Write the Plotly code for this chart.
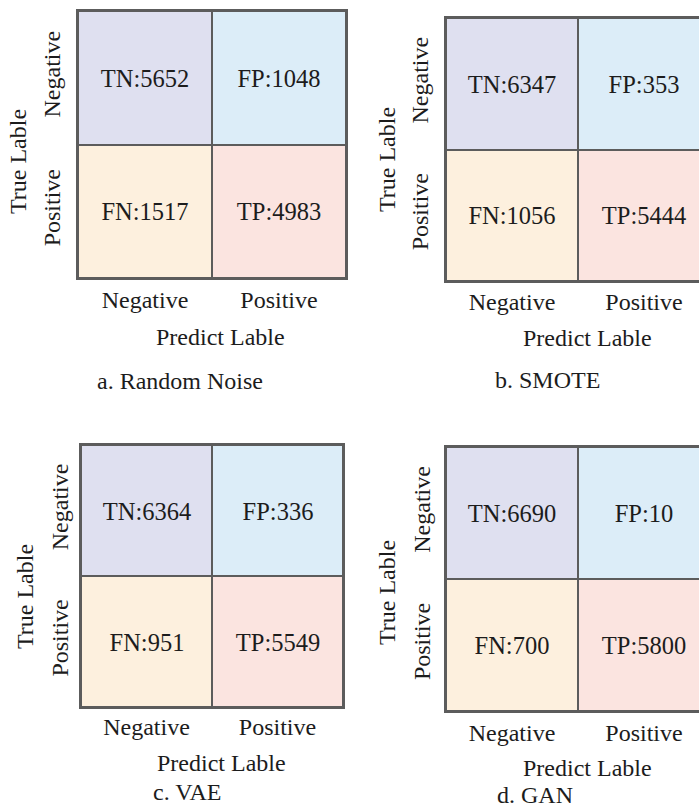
import plotly.graph_objects as go

# ---------------- data ----------------
methods = ["a. Random Noise", "b. SMOTE", "c. VAE", "d. GAN"]
tn_vals = [5652, 6347, 6364, 6690]
fp_vals = [1048, 353, 336, 10]
fn_vals = [1517, 1056, 951, 700]
tp_vals = [4983, 5444, 5549, 5800]
class_labels = ["Negative", "Positive"]
x_title = "Predict Lable"
y_title = "True Lable"

# ---------------- layout helpers ----------------
W, H = 699, 812
FONT = "Liberation Serif"
TXT = "#1c1c1c"
LINE = "#5c5c5c"
cell_colors = ["#dfe0f0", "#dcedf8", "#fdf0de", "#fbe4e0"]
colorscale = [[0, cell_colors[0]], [1 / 3, cell_colors[1]], [2 / 3, cell_colors[2]], [1, cell_colors[3]]]

def fx(px):
    return px / W

def fy(py):
    return 1 - py / H

panels = [
    dict(x0=78, x1=346, y0=11, y1=278, xt=(220, 337), cap=(180, 381), yt=(18, 162), mirror=True, xs=-1, yl=6),
    dict(x0=446, x1=710, y0=18, y1=281, xt=(587, 338), cap=(547, 380), yt=(387, 160), mirror=False, xs=-2, yl=6),
    dict(x0=81, x1=343, y0=445, y1=707, xt=(222, 763), cap=(187, 792), yt=(25, 597), mirror=True, xs=-3, yl=1),
    dict(x0=446, x1=710, y0=447, y1=711, xt=(587, 768), cap=(535, 795), yt=(387, 593), mirror=False, xs=-1, yl=4),
]

fig = go.Figure()
annotations = []

for i, p in enumerate(panels):
    n = "" if i == 0 else str(i + 1)
    text = [[f"TN:{tn_vals[i]}", f"FP:{fp_vals[i]}"],
            [f"FN:{fn_vals[i]}", f"TP:{tp_vals[i]}"]]
    fig.add_trace(go.Heatmap(
        z=[[0, 1], [2, 3]], x=[0, 1], y=[0, 1],
        text=text, texttemplate="%{text}",
        textfont=dict(family=FONT, size=24.5, color=TXT),
        colorscale=colorscale, zmin=0, zmax=3, showscale=False,
        xgap=2, ygap=2, hoverinfo="skip",
        xaxis="x" + n, yaxis="y" + n,
    ))
    vis_x1 = min(p["x1"], W)
    cellw = (p["x1"] - p["x0"]) / 2
    xr_end = -0.5 + (vis_x1 - p["x0"]) / cellw
    fig.layout["xaxis" + n] = dict(
        domain=[fx(p["x0"]), fx(vis_x1)], range=[-0.5, xr_end],
        anchor="y" + n, tickvals=[0, 1], ticktext=class_labels,
        ticks="", ticklen=0, ticklabelstandoff=p["xs"],
        tickfont=dict(family=FONT, size=24, color=TXT),
        showgrid=False, zeroline=False, showline=True, mirror=True,
        linecolor=LINE, linewidth=2, fixedrange=True,
    )
    fig.layout["yaxis" + n] = dict(
        domain=[fy(p["y1"]), fy(p["y0"])], range=[1.5, -0.5],
        anchor="x" + n, tickvals=[0, 1], ticktext=class_labels,
        tickangle=-90, ticks="outside", ticklen=p["yl"], tickcolor="rgba(0,0,0,0)",
        tickfont=dict(family=FONT, size=24, color=TXT),
        showgrid=False, zeroline=False, showline=True, mirror=p["mirror"],
        linecolor=LINE, linewidth=2, fixedrange=True,
    )
    for txt, pos, ang in ((x_title, p["xt"], 0), (y_title, p["yt"], -90), (methods[i], p["cap"], 0)):
        annotations.append(dict(text=txt, x=fx(pos[0]), y=fy(pos[1]),
                                xref="paper", yref="paper", showarrow=False, textangle=ang,
                                xanchor="center", yanchor="middle",
                                font=dict(family=FONT, size=24, color=TXT)))

fig.update_layout(
    width=W, height=H, margin=dict(l=0, r=0, t=0, b=0),
    paper_bgcolor="white", plot_bgcolor=LINE,
    font=dict(family=FONT, size=24, color=TXT),
    annotations=annotations, showlegend=False,
)

fig.write_html("out.html", config={"displayModeBar": False})
